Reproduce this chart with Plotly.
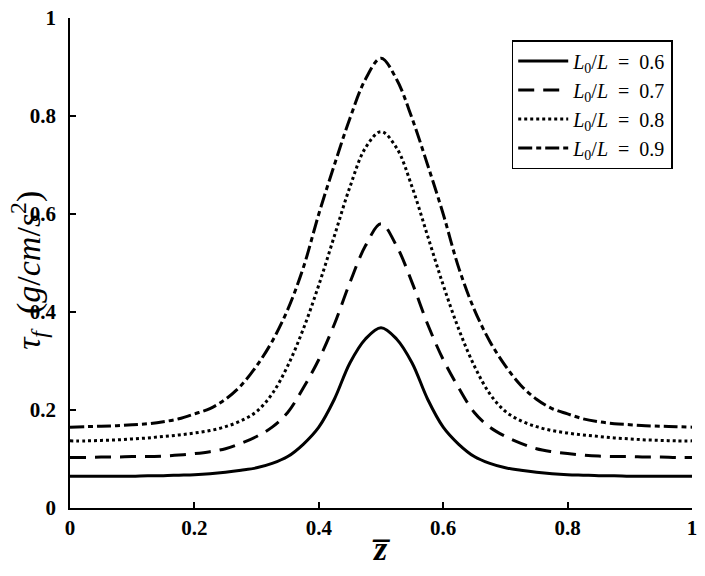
import plotly.graph_objects as go

z_bar = [0.0, 0.025, 0.05, 0.075, 0.1, 0.125, 0.15, 0.175, 0.2, 0.225, 0.25, 0.275, 0.3, 0.325, 0.35, 0.375, 0.4,
         0.425, 0.45, 0.475, 0.5, 0.525, 0.55, 0.575, 0.6, 0.625, 0.65, 0.675, 0.7, 0.725, 0.75, 0.775, 0.8,
         0.825, 0.85, 0.875, 0.9, 0.925, 0.95, 0.975, 1.0]

tau_06 = [0.065, 0.065, 0.065, 0.065, 0.065, 0.066, 0.066, 0.067, 0.068, 0.070, 0.073, 0.077, 0.082, 0.091, 0.105,
          0.130, 0.165, 0.222, 0.296, 0.345, 0.368, 0.345, 0.296, 0.222, 0.165, 0.130, 0.105, 0.091, 0.082, 0.077,
          0.073, 0.070, 0.068, 0.067, 0.066, 0.066, 0.065, 0.065, 0.065, 0.065, 0.065]
tau_07 = [0.103, 0.103, 0.104, 0.104, 0.105, 0.105, 0.106, 0.108, 0.111, 0.115, 0.121, 0.132, 0.146, 0.165, 0.195,
          0.245, 0.303, 0.375, 0.460, 0.535, 0.580, 0.535, 0.460, 0.375, 0.303, 0.245, 0.195, 0.165, 0.146, 0.132,
          0.121, 0.115, 0.111, 0.108, 0.106, 0.105, 0.105, 0.104, 0.104, 0.103, 0.103]
tau_08 = [0.137, 0.137, 0.138, 0.139, 0.141, 0.143, 0.146, 0.149, 0.153, 0.158, 0.166, 0.178, 0.197, 0.233, 0.290,
          0.365, 0.455, 0.555, 0.655, 0.735, 0.768, 0.735, 0.655, 0.555, 0.455, 0.365, 0.290, 0.233, 0.197, 0.178,
          0.166, 0.158, 0.153, 0.149, 0.146, 0.143, 0.141, 0.139, 0.138, 0.137, 0.137]
tau_09 = [0.165, 0.166, 0.167, 0.168, 0.170, 0.172, 0.176, 0.182, 0.192, 0.203, 0.222, 0.250, 0.290, 0.340, 0.405,
          0.490, 0.600, 0.700, 0.795, 0.875, 0.918, 0.875, 0.795, 0.700, 0.600, 0.490, 0.405, 0.340, 0.290, 0.250,
          0.222, 0.203, 0.192, 0.182, 0.176, 0.172, 0.170, 0.168, 0.167, 0.166, 0.165]

ratios = ['0.6', '0.7', '0.8', '0.9']
series = [tau_06, tau_07, tau_08, tau_09]
dashes = ['solid', '16px,9px', '3px,3px', '14px,4px,5px,4px']
tick_vals = [0, 0.2, 0.4, 0.6, 0.8, 1]
tick_text = ['0', '0.2', '0.4', '0.6', '0.8', '1']

fig = go.Figure()
for r, ys, d in zip(ratios, series, dashes):
    fig.add_trace(go.Scatter(
        x=z_bar, y=ys, mode='lines',
        name='<i>L</i><sub>0</sub>/<i>L</i>\u2002=\u2002' + r,
        line=dict(color='black', width=3, dash=d, shape='spline', smoothing=1.0)
    ))

serif = 'Liberation Serif'
axis_style = dict(
    showline=True, linecolor='black', linewidth=1.5, mirror=False,
    ticks='inside', ticklen=6, tickcolor='black', tickwidth=1.5,
    showgrid=False, zeroline=False, automargin=False,
    range=[0, 1], tickvals=tick_vals, ticktext=tick_text,
    tickfont=dict(family=serif, size=21, color='black', weight='bold'),
)

fig.update_layout(
    width=705, height=576,
    margin=dict(l=70, r=13, t=18, b=68),
    paper_bgcolor='white', plot_bgcolor='white',
    xaxis=dict(**axis_style),
    yaxis=dict(ticklabelstandoff=8, **axis_style),
    legend=dict(x=0.969, y=0.955, xanchor='right', yanchor='top',
                bgcolor='white', bordercolor='black', borderwidth=1.5,
                font=dict(family=serif, size=20, color='black'),
                itemwidth=50, tracegroupgap=0),
    showlegend=True,
)

# axis titles
fig.add_annotation(text='<b><i>z\u0305</i></b>', xref='paper', yref='paper', x=0.5, y=-0.082,
                   xanchor='center', yanchor='middle', showarrow=False,
                   font=dict(family=serif, size=34, color='black'))
fig.add_annotation(text='<i>\u03c4<sub>f</sub></i>&nbsp;&nbsp;(<i>g</i>/<i>cm</i>/<i>s</i><sup>2</sup>)',
                   xref='paper', yref='paper', x=-0.066, y=0.486, textangle=-90,
                   xanchor='center', yanchor='middle', showarrow=False,
                   font=dict(family=serif, size=34, color='black'))

fig.write_html('out.html', config={'displayModeBar': False},
               post_script="document.body.style.margin='0px';")
